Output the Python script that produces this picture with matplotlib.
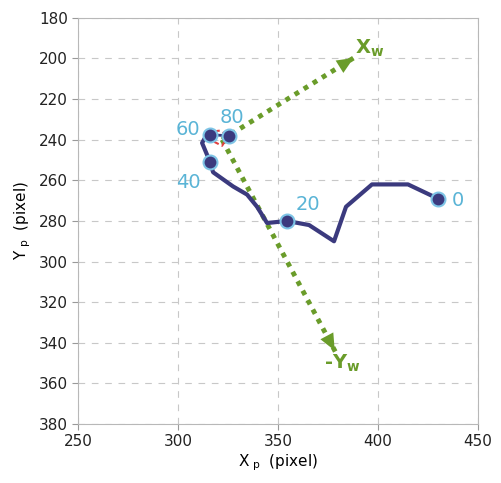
import matplotlib.pyplot as plt

# trajectory in image coordinates (pixel), frame 0 -> 60
path_x = [430, 415, 397, 384, 378, 365.5, 354.5, 344.5, 339.5, 334.5,
          327.5, 317.5, 316, 312, 313.5, 316]
path_y = [269, 262, 262, 273, 290, 282, 280, 281, 273, 267,
          263, 256, 251, 241.6, 239, 237.6]

# labelled frames
frame_labels = ['0', '20', '40', '60', '80']
frame_x = [430, 354.5, 316, 316, 325.5]
frame_y = [269, 280, 251, 237.6, 238]
label_x = [440, 365, 305, 305, 327]
label_y = [270, 272, 261, 235, 229]

# small red loop near the end
red_x = [317, 321, 325, 322, 318]
red_y = [236, 235.5, 238, 243, 241]

# world axes drawn from the origin
origin = (322, 240)
xw_tip = (389, 199)
yw_tip = (379, 345)

fig = plt.figure(figsize=(5.01, 4.83), dpi=100)
ax = fig.add_axes([0.156, 0.122, 0.798, 0.841])

ax.plot(path_x, path_y, color='#3b3a7e', lw=3, solid_capstyle='round',
        solid_joinstyle='round', zorder=3)
ax.plot([316, 325.5], [237.6, 238], color='#3b3a7e', lw=2, zorder=3)
ax.plot(red_x, red_y, color='#e04040', lw=1.5, ls='--', zorder=4)

for tip in (xw_tip, yw_tip):
    ax.plot([origin[0], tip[0]], [origin[1], tip[1]], ls=(0, (1, 1.2)),
            color='#6a9c2a', lw=3.5, zorder=2)
    ax.annotate('', xy=tip, xytext=(origin[0] + 0.85 * (tip[0] - origin[0]),
                                     origin[1] + 0.85 * (tip[1] - origin[1])),
                arrowprops=dict(arrowstyle='-|>,head_length=0.8,head_width=0.35',
                                mutation_scale=15, color='#6a9c2a', lw=0),
                zorder=2)

ax.plot(frame_x, frame_y, 'o', ms=10, mfc='#3b3a7e', mec='#7ec4e6', mew=1.5,
        zorder=5)
for t, lx, ly in zip(frame_labels, label_x, label_y):
    ax.text(lx, ly, t, color='#5ab4d6', fontsize=14, ha='center', va='center',
            zorder=6)

ax.text(396, 195, r'X$_{\mathregular{w}}$', color='#6a9c2a', fontsize=14,
        fontweight='bold', ha='center', va='center')
ax.text(382, 350, r'-Y$_{\mathregular{w}}$', color='#6a9c2a', fontsize=14,
        fontweight='bold', ha='center', va='center')

ax.set_xlim(250, 450)
ax.set_ylim(380, 180)
ax.set_xticks(range(250, 451, 50))
ax.set_yticks(range(180, 381, 20))
ax.grid(True, ls=(0, (6, 6)), color='#c8c8c8', lw=0.8)
for s in ax.spines.values():
    s.set_color('#b8b8b8')
ax.tick_params(colors='#999999', labelcolor='#222222', labelsize=11, length=4)

ax.set_xlabel(r'$\mathregular{X_{\ p}}$  (pixel)', fontsize=11, labelpad=2)
ax.set_ylabel(r'$\mathregular{Y_{\ p}}$  (pixel)', fontsize=11, labelpad=4)

fig.savefig('out.png', dpi=100)
